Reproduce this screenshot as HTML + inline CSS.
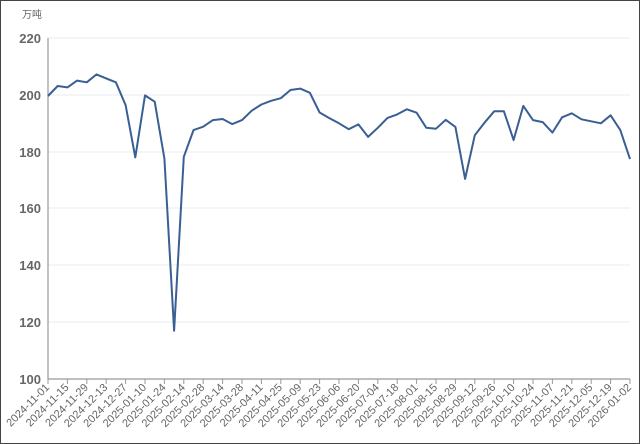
<!DOCTYPE html>
<html><head><meta charset="utf-8"><style>
html,body{margin:0;padding:0;background:#fff;}
svg{display:block;}
</style></head><body>
<svg width="640" height="444" viewBox="0 0 640 444" xmlns="http://www.w3.org/2000/svg" font-family="Liberation Sans, Noto Sans CJK SC, sans-serif">
<rect x="0.5" y="0.5" width="639" height="443" fill="#fff" stroke="#444" stroke-width="1"/>
<text x="22" y="18" font-size="10" fill="#666">万吨</text>
<g stroke="#e8ebf0" stroke-width="1">
<line x1="48" y1="38" x2="630" y2="38"/>
<line x1="48" y1="95" x2="630" y2="95"/>
<line x1="48" y1="152" x2="630" y2="152"/>
<line x1="48" y1="208" x2="630" y2="208"/>
<line x1="48" y1="265" x2="630" y2="265"/>
<line x1="48" y1="322" x2="630" y2="322"/>
</g>
<line x1="48" y1="38" x2="48" y2="379" stroke="#999" stroke-width="1.2"/>
<line x1="48" y1="379" x2="630" y2="379" stroke="#999" stroke-width="1.2"/>
<g font-size="13" font-weight="bold" fill="#666" text-anchor="end">
<text x="41" y="43">220</text><text x="41" y="100">200</text><text x="41" y="157">180</text>
<text x="41" y="213">160</text><text x="41" y="270">140</text><text x="41" y="327">120</text><text x="41" y="384">100</text>
</g>
<g id="ticks" stroke="#999" stroke-width="1"></g>
<g id="labels" font-size="11" fill="#666" text-anchor="end"></g>
<polyline id="line" fill="none" stroke="#3a5f93" stroke-width="2" stroke-linejoin="round"/>
</svg>
<script>
var v=[199.6,203.1,202.6,205,204.4,207.2,205.8,204.4,196.4,178,199.8,197.6,177.6,117,178.2,187.6,188.8,191.1,191.5,189.7,191.1,194.4,196.6,197.9,198.8,201.7,202.2,200.7,193.8,191.8,190,187.9,189.6,185.2,188.4,191.9,193.1,194.9,193.7,188.4,188.1,191.2,188.7,170.4,185.8,190.2,194.2,194.2,184.1,196.1,191.1,190.4,186.7,192.1,193.5,191.4,190.7,190,192.8,187.6,177.4];
var step=582/60,p=[];
for(var i=0;i<v.length;i++){p.push((48+i*step).toFixed(1)+","+(38+(220-v[i])*2.8417).toFixed(1));}
document.getElementById("line").setAttribute("points",p.join(" "));
var L=["2024-11-01","2024-11-15","2024-11-29","2024-12-13","2024-12-27","2025-01-10","2025-01-24","2025-02-14","2025-02-28","2025-03-14","2025-03-28","2025-04-11","2025-04-25","2025-05-09","2025-05-23","2025-06-06","2025-06-20","2025-07-04","2025-07-18","2025-08-01","2025-08-15","2025-08-29","2025-09-12","2025-09-26","2025-10-10","2025-10-24","2025-11-07","2025-11-21","2025-12-05","2025-12-19","2026-01-02"];
var t="",l="";
for(var j=0;j<L.length;j++){var x=48+j*582/30;
t+='<line x1="'+x+'" y1="379" x2="'+x+'" y2="384"/>';
l+='<text transform="translate('+(x+2)+',388) rotate(-45)">'+L[j]+'</text>';}
document.getElementById("ticks").innerHTML=t;
document.getElementById("labels").innerHTML=l;
</script>
</body></html>
